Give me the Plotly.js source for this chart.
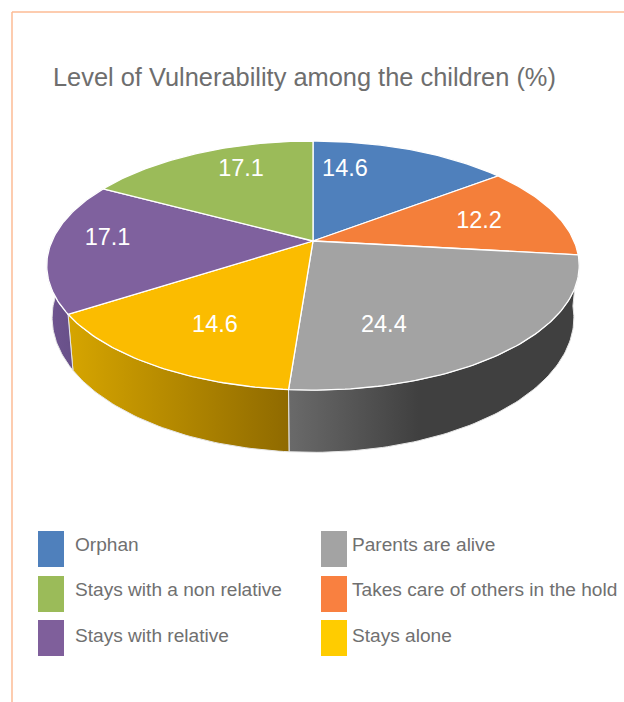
<!DOCTYPE html>
<html><head><meta charset="utf-8">
<script src="https://cdn.plot.ly/plotly-3.0.1.min.js"></script>
<style>html,body{margin:0;padding:0;background:#fff}</style></head>
<body><div id="chart" style="width:624px;height:702px"></div>
<script>
const categories = ["Orphan","Takes care of others in the hold","Parents are alive","Stays alone","Stays with relative","Stays with a non relative"];
const values = [14.6,12.2,24.4,14.6,17.1,17.1];
const topColors = ["#4f80bc","#f47f3a","#a3a3a3","#fbbc00","#7f619e","#9bbb59"];
const legendColors = ["#4f80bc","#f98040","#a3a3a3","#ffcc00","#7f5f9b","#9bbb59"];
const sideGradients = [null,null,["#6a6a6a","#404040"],["#d6a500","#8f6a00"],["#6f5590","#5f4a80"],null];
const labelNudgeX = [-32.6,15,-43,-6,-43,3];
const labelNudgeY = [-11,0,22,14,-5,-13];
const titleText = "Level of Vulnerability among the children (%)";
const legendOrder = [0,5,4,2,1,3];

const FONT = "Liberation Sans, Arial, sans-serif";
const CX=313, CY=241, A=119.7, B=261, K=0.197, DEPTH=50, LOWER=0.98;
const total = values.reduce((a,b)=>a+b,0);
function proj(deg,r,lower){
  const t=deg*Math.PI/180, d=1+K*r*Math.cos(t), s=lower?LOWER:1;
  return [CX+s*B*r*Math.sin(t)/d, CY-A*r*Math.cos(t)/d+(lower?DEPTH/d:0)];
}
function arc(a0,a1,lower){
  const n=Math.max(2,Math.ceil(Math.abs(a1-a0))), pts=[];
  for(let i=0;i<=n;i++) pts.push(proj(a0+(a1-a0)*i/n,1,lower));
  return pts;
}
const angles=[0]; values.forEach(v=>angles.push(angles[angles.length-1]+v/total*360));
const traces=[];
function poly(pts,extra){
  const c=pts.concat([pts[0]]);
  traces.push(Object.assign({type:"scatter",mode:"lines",x:c.map(p=>p[0]),y:c.map(p=>p[1]),fill:"toself",hoverinfo:"skip"},extra));
}
values.forEach((v,i)=>{
  const g=sideGradients[i]; if(!g) return;
  const pts=arc(angles[i],angles[i+1],false).concat(arc(angles[i+1],angles[i],true));
  const xs=pts.map(p=>p[0]);
  let start=Math.min(...xs), stop=Math.max(...xs);
  if(i===2) stop=start+130;
  poly(pts,{line:{color:"#e6e6e6",width:1},fillcolor:g[1],
    fillgradient:{type:"horizontal",start:start,stop:stop,colorscale:[[0,g[0]],[1,g[1]]]}});
});
values.forEach((v,i)=>{
  const pts=[[CX,CY]].concat(arc(angles[i],angles[i+1],false));
  poly(pts,{line:{color:"#ffffff",width:1.3},fillcolor:topColors[i]});
});
const lab=values.map((v,i)=>proj((angles[i]+angles[i+1])/2,0.62,false));
traces.push({type:"scatter",mode:"text",x:lab.map((p,i)=>p[0]+labelNudgeX[i]),y:lab.map((p,i)=>p[1]+labelNudgeY[i]),
  text:values.map(v=>v.toFixed(1)),textposition:"middle center",hoverinfo:"skip",
  textfont:{family:FONT,size:23.5,color:"#ffffff"}});
const colX=[38,321], textX=[75,352], rowTop=[531,576,620], rowMid=[546.5,591.5,637.5];
const shapes=[
 {type:"line",x0:12,x1:624,y0:12,y1:12,line:{color:"#fdbb94",width:1.5}},
 {type:"line",x0:12,x1:12,y0:12,y1:702,line:{color:"#fdbb94",width:1.5}}
];
const legX=[],legY=[],legT=[];
legendOrder.forEach((c,k)=>{
  const col=Math.floor(k/3),row=k%3;
  shapes.push({type:"rect",x0:colX[col],x1:colX[col]+26,y0:rowTop[row],y1:rowTop[row]+36,fillcolor:legendColors[c],line:{width:0}});
  legX.push(textX[col]);legY.push(rowMid[row]);legT.push(categories[c]);
});
traces.push({type:"scatter",mode:"text",x:legX,y:legY,text:legT,textposition:"middle right",hoverinfo:"skip",
  textfont:{family:FONT,size:19.1,color:"#707070"}});
Plotly.newPlot("chart",traces,{
  width:624,height:702,margin:{l:0,r:0,t:0,b:0},paper_bgcolor:"#fff",plot_bgcolor:"#fff",showlegend:false,
  title:{text:titleText,x:53/624,xanchor:"left",y:1-77/702,yanchor:"middle",font:{family:FONT,size:25.4,color:"#6e6e6e"}},
  xaxis:{range:[0,624],visible:false,fixedrange:true},
  yaxis:{range:[702,0],visible:false,fixedrange:true},
  shapes:shapes
},{displayModeBar:false,staticPlot:true});
</script></body></html>
